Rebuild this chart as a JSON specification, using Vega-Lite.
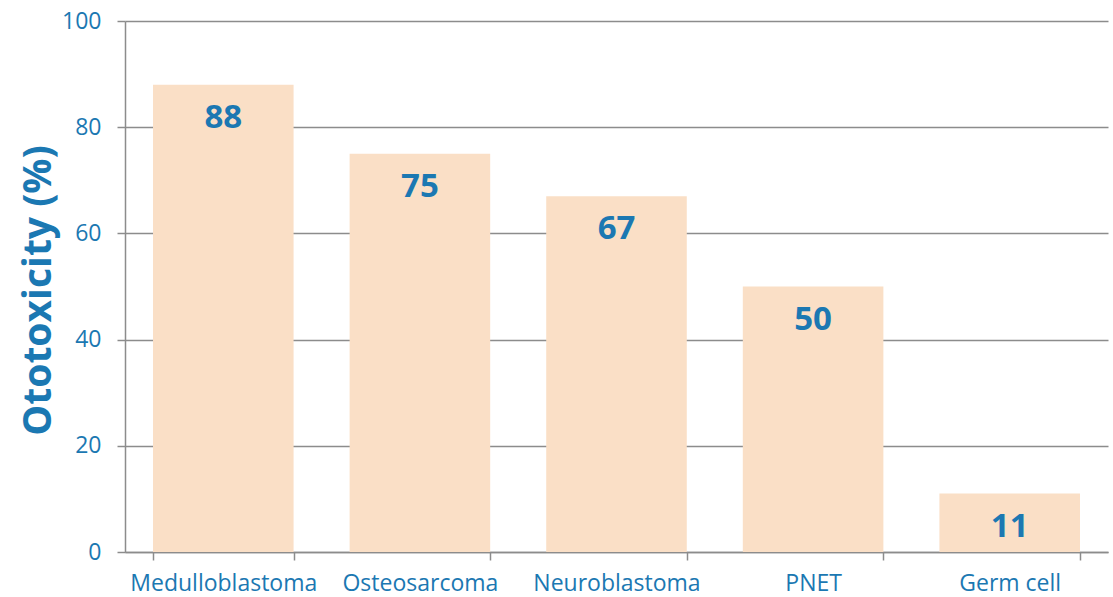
{
  "$schema": "https://vega.github.io/schema/vega-lite/v6.json",
  "width": 983,
  "height": 531,
  "autosize": "none",
  "padding": {"left": 125, "top": 21, "right": 5, "bottom": 45},
  "background": "white",
  "config": {
    "view": {"stroke": null},
    "font": "Open Sans",
    "axis": {"zindex": 1}
  },
  "data": {
    "values": [
      {"category": "Medulloblastoma", "value": 88},
      {"category": "Osteosarcoma", "value": 75},
      {"category": "Neuroblastoma", "value": 67},
      {"category": "PNET", "value": 50},
      {"category": "Germ cell", "value": 11}
    ]
  },
  "encoding": {
    "x": {
      "field": "category",
      "type": "nominal",
      "sort": null,
      "scale": {"paddingInner": 0.285, "paddingOuter": 0.1425},
      "axis": {
        "title": null,
        "labelAngle": 0,
        "labelFont": "Open Sans",
        "labelFontSize": 23,
        "labelColor": "#1B78B2",
        "labelPadding": 12,
        "labelLimit": 0,
        "tickBand": "extent",
        "tickSize": 8,
        "tickColor": "#8c8c8c",
        "tickWidth": 1.5,
        "domainColor": "#8c8c8c",
        "domainWidth": 1.5,
        "grid": false
      }
    },
    "y": {
      "field": "value",
      "type": "quantitative",
      "scale": {"domain": [0, 100]},
      "axis": {
        "title": "Ototoxicity (%)",
        "titleFont": "Open Sans",
        "titleFontSize": 39,
        "titleFontWeight": "bold",
        "titleColor": "#1B78B2",
        "titleX": -87,
        "titleY": 269,
        "titleAngle": -90,
        "titleAlign": "center",
        "titleBaseline": "middle",
        "values": [0, 20, 40, 60, 80, 100],
        "labelFont": "Open Sans",
        "labelFontSize": 23,
        "labelColor": "#1B78B2",
        "labelPadding": 16,
        "tickSize": 8,
        "tickColor": "#8c8c8c",
        "tickWidth": 1.5,
        "domainColor": "#8c8c8c",
        "domainWidth": 1.5,
        "grid": true,
        "gridColor": "#8c8c8c",
        "gridWidth": 1.5
      }
    }
  },
  "layer": [
    {"mark": {"type": "bar", "color": "#FADFC6"}},
    {
      "mark": {
        "type": "text",
        "dy": 33,
        "font": "Open Sans",
        "fontSize": 33,
        "fontWeight": "bold",
        "color": "#1B78B2"
      },
      "encoding": {"text": {"field": "value", "type": "quantitative"}}
    }
  ]
}
